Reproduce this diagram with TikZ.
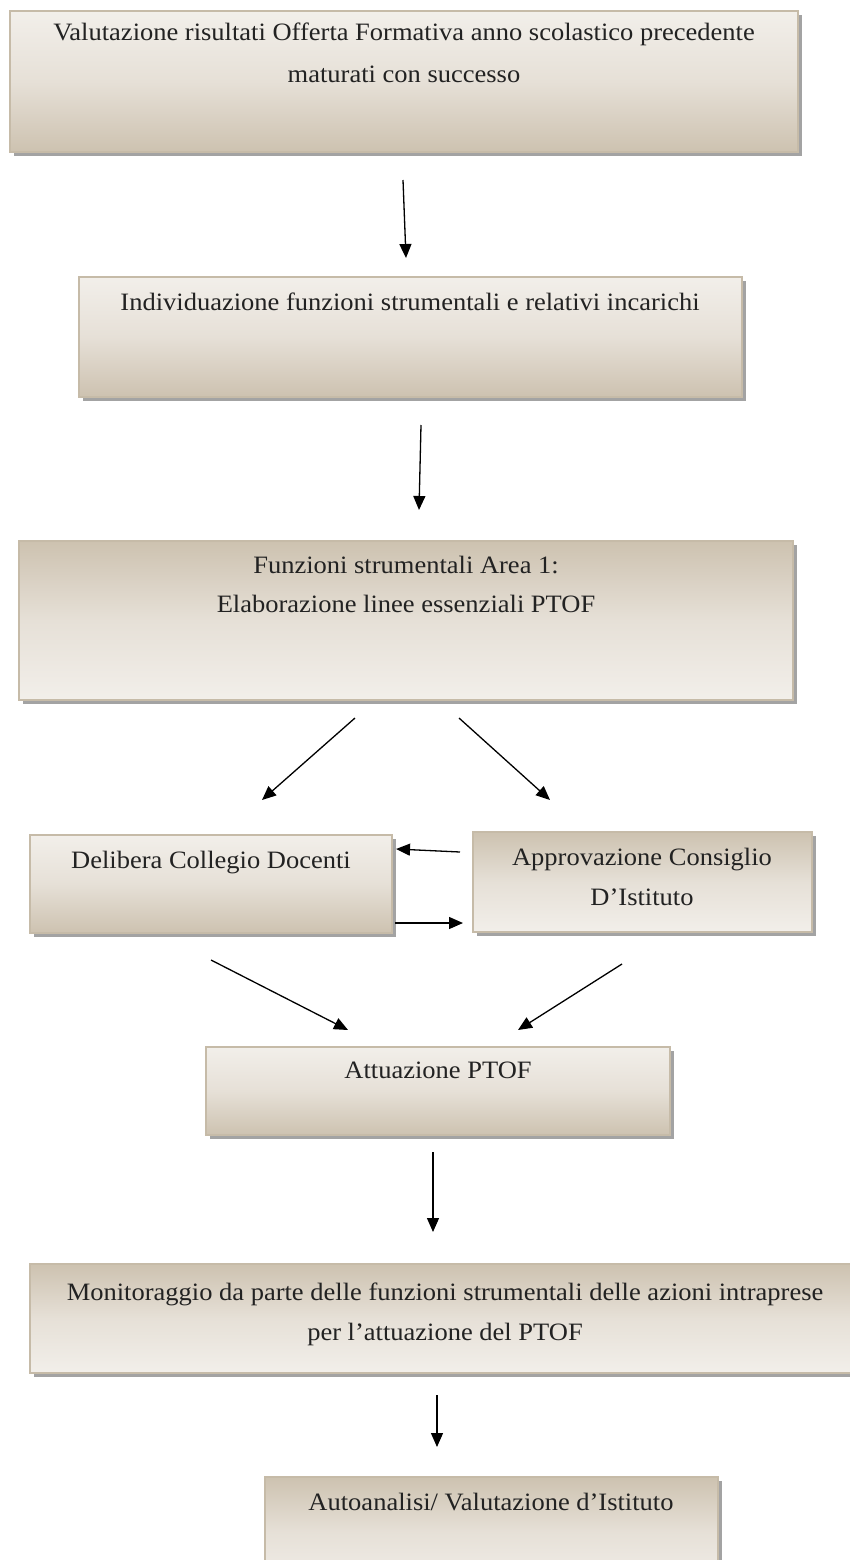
\documentclass[tikz,border=0pt]{standalone}
\usepackage{fontspec}
\setmainfont{Liberation Serif}[FakeStretch=1.06]
\usetikzlibrary{shadows,arrows.meta}
\definecolor{parchlight}{HTML}{F2EFEA}
\definecolor{parchmid}{HTML}{E6E0D7}
\definecolor{parchtan}{HTML}{CDC2B0}
\definecolor{parchline}{HTML}{C6BBA8}
\definecolor{inktext}{HTML}{222222}
\tikzset{
  flowbox/.style={draw=parchline, line width=1.2pt, inner sep=0pt, outer sep=0pt, anchor=north west,
    drop shadow={shadow xshift=4pt, shadow yshift=-4pt, fill=black!45, opacity=0.8}},
  fadedown/.style={flowbox, top color=parchlight, bottom color=parchtan, middle color=parchmid},
  fadeup/.style={flowbox, top color=parchtan, bottom color=parchlight, middle color=parchmid},
  boxtext/.style={font=\fontsize{25}{29}\selectfont, text=inktext, anchor=base, inner sep=0pt},
  flowarrow/.style={-{Triangle[width=12pt,length=14pt]}, line width=1.3pt, black}
}
\begin{document}
\begin{tikzpicture}[x=1pt,y=1pt]
\useasboundingbox (0,0) rectangle (850,-1560);
\begin{scope}
\clip (0,0) rectangle (850,-1560);
% boxes
\node[fadedown, minimum width=788pt, minimum height=141pt] (b1) at (10,-11) {};
\node[fadedown, minimum width=663pt, minimum height=120pt] (b2) at (79,-277) {};
\node[fadeup,   minimum width=774pt, minimum height=159pt] (b3) at (19,-541) {};
\node[fadedown, minimum width=362pt, minimum height=98pt]  (b4) at (30,-835) {};
\node[fadeup,   minimum width=339pt, minimum height=100pt] (b5) at (473,-832) {};
\node[fadedown, minimum width=464pt, minimum height=88pt]  (b6) at (206,-1047) {};
\node[fadeup,   minimum width=830pt, minimum height=109pt] (b7) at (30,-1264) {};
\node[fadeup,   minimum width=453pt, minimum height=110pt] (b8) at (265,-1477) {};
\end{scope}
% texts
\node[boxtext] (t1a) at (404,-41) {Valutazione risultati Offerta Formativa anno scolastico precedente};
\node[boxtext] (t1b) at (404,-83) {maturati con successo};
\node[boxtext] (t2)  at (410,-310) {Individuazione funzioni strumentali e relativi incarichi};
\node[boxtext] (t3a) at (406,-573) {Funzioni strumentali Area 1:};
\node[boxtext] (t3b) at (406,-612) {Elaborazione linee essenziali PTOF};
\node[boxtext] (t4)  at (211,-868) {Delibera Collegio Docenti};
\node[boxtext] (t5a) at (642,-865) {Approvazione Consiglio};
\node[boxtext] (t5b) at (642,-905) {D’Istituto};
\node[boxtext] (t6)  at (438,-1078) {Attuazione PTOF};
\node[boxtext] (t7a) at (445,-1300) {Monitoraggio da parte delle funzioni strumentali delle azioni intraprese};
\node[boxtext] (t7b) at (445,-1340) {per l’attuazione del PTOF};
\node[boxtext] (t8)  at (491,-1510) {Autoanalisi/ Valutazione d’Istituto};
% arrow end points
\coordinate (a1s) at (403,-180);  \coordinate (a1e) at (406,-258);
\coordinate (a2s) at (421,-425);  \coordinate (a2e) at (419,-510);
\coordinate (a3s) at (355,-718);  \coordinate (a3e) at (262,-800);
\coordinate (a4s) at (459,-718);  \coordinate (a4e) at (550,-800);
\coordinate (a5s) at (460,-852);  \coordinate (a5e) at (396,-849);
\coordinate (a6s) at (395,-923);  \coordinate (a6e) at (463,-923);
\coordinate (a7s) at (211,-960);  \coordinate (a7e) at (348,-1030);
\coordinate (a8s) at (622,-964);  \coordinate (a8e) at (518,-1030);
\coordinate (a9s) at (433,-1152); \coordinate (a9e) at (433,-1232);
\coordinate (a10s) at (437,-1395); \coordinate (a10e) at (437,-1447);
\foreach \i in {1,...,10} { \draw[flowarrow] (a\i s) -- (a\i e); }
\end{tikzpicture}
\end{document}
